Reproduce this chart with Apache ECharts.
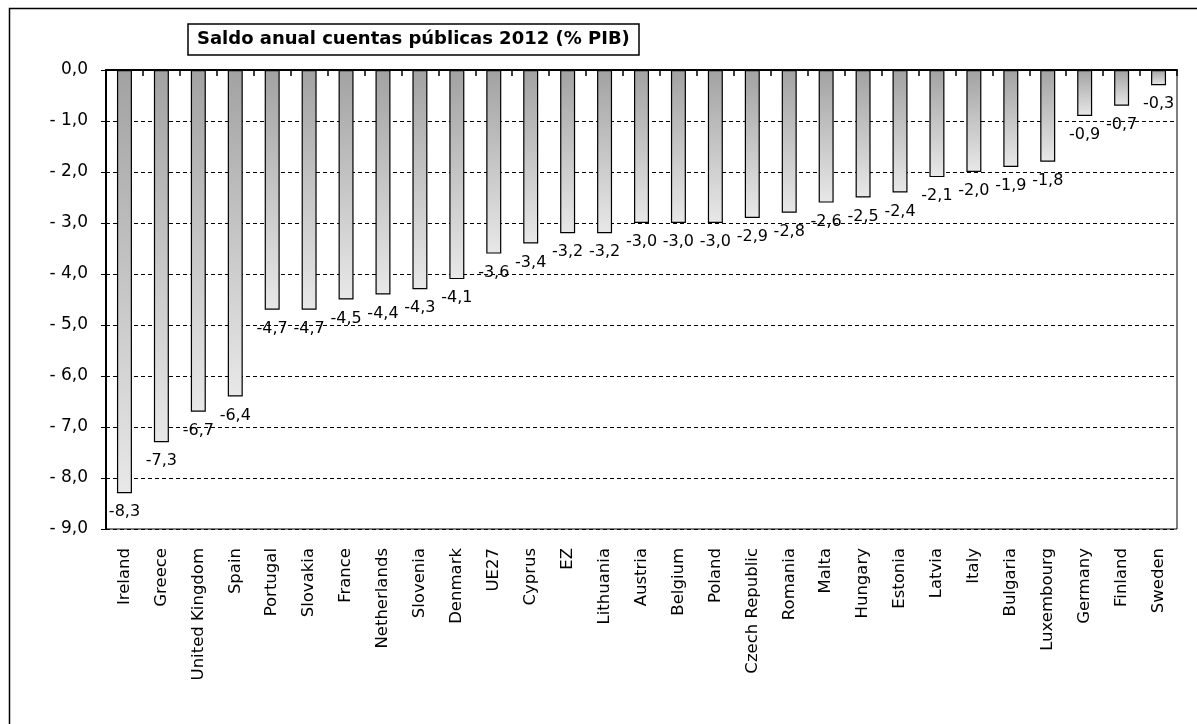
<!DOCTYPE html>
<html>
<head>
<meta charset="utf-8">
<script src="https://cdn.jsdelivr.net/npm/echarts@6/dist/echarts.min.js"></script>
<style>
html,body{margin:0;padding:0;background:#fff;}
#chart{width:1197px;height:724px;}
</style>
</head>
<body>
<div id="chart"></div>
<script>
const categories = ["Ireland","Greece","United Kingdom","Spain","Portugal","Slovakia","France","Netherlands","Slovenia","Denmark","UE27","Cyprus","EZ","Lithuania","Austria","Belgium","Poland","Czech Republic","Romania","Malta","Hungary","Estonia","Latvia","Italy","Bulgaria","Luxembourg","Germany","Finland","Sweden"];
const values = [-8.3,-7.3,-6.7,-6.4,-4.7,-4.7,-4.5,-4.4,-4.3,-4.1,-3.6,-3.4,-3.2,-3.2,-3.0,-3.0,-3.0,-2.9,-2.8,-2.6,-2.5,-2.4,-2.1,-2.0,-1.9,-1.8,-0.9,-0.7,-0.3];
const titleText = "Saldo anual cuentas públicas 2012 (% PIB)";
const yMin = -9, yMax = 0, yInterval = 1;

const fmt = v => v.toFixed(1).replace('.', ',');
const yFmt = v => v === 0 ? '0,0' : (v < 0 ? '- ' : '') + Math.abs(v).toFixed(1).replace('.', ',');

const chart = echarts.init(document.getElementById('chart'), null, {renderer: 'canvas'});
const FONT = 'DejaVu Sans';
chart.setOption({
  animation: false,
  backgroundColor: '#fff',
  title: {
    text: titleText,
    left: 188, top: 24,
    padding: [5, 9, 5, 9],
    borderColor: '#000', borderWidth: 1.5,
    backgroundColor: '#fff',
    textStyle: {fontFamily: 'DejaVu Sans', fontWeight: 'bold', fontSize: 18, lineHeight: 21, color: '#000'}
  },
  graphic: [{
    type: 'rect', left: 7, top: 6, z: -10, silent: true,
    shape: {width: 1300, height: 900},
    style: {fill: 'none', stroke: '#000', lineWidth: 1.5}
  }],
  grid: {left: 106, right: 20, top: 70, bottom: 195, show: true, borderColor: '#000', borderWidth: 1, backgroundColor: 'transparent'},
  xAxis: [{
    type: 'category', data: categories, position: 'bottom',
    axisLine: {show: false}, axisTick: {show: false},
    axisLabel: {rotate: 90, margin: 19, fontFamily: FONT, fontSize: 16.5, color: '#000', interval: 0}
  }, {
    type: 'category', data: categories, position: 'top',
    axisLine: {show: true, onZero: false, lineStyle: {color: '#000', width: 2}},
    axisTick: {show: true, inside: true, length: 6, interval: 0, lineStyle: {color: '#000', width: 1.5}},
    axisLabel: {show: false, interval: 0}
  }],
  yAxis: {
    type: 'value', min: yMin, max: yMax, interval: yInterval,
    axisLine: {show: true, lineStyle: {color: '#000', width: 2}},
    axisTick: {show: true, length: 5, lineStyle: {color: '#000'}},
    axisLabel: {formatter: yFmt, margin: 18, fontFamily: FONT, fontSize: 17, color: '#000'},
    splitLine: {show: true, lineStyle: {color: '#000', type: [4, 3], width: 1}}
  },
  series: [{
    type: 'bar', data: values, xAxisIndex: 0, barWidth: 15,
    itemStyle: {
      borderColor: '#000', borderWidth: 1.2,
      color: new echarts.graphic.LinearGradient(0, 0, 0, 1, [
        {offset: 0, color: '#a2a2a2'}, {offset: 1, color: '#e8e8e8'}
      ])
    },
    label: {show: true, position: 'bottom', distance: 11, formatter: p => fmt(p.value), fontFamily: FONT, fontSize: 16, color: '#000'}
  }]
});
</script>
</body>
</html>
